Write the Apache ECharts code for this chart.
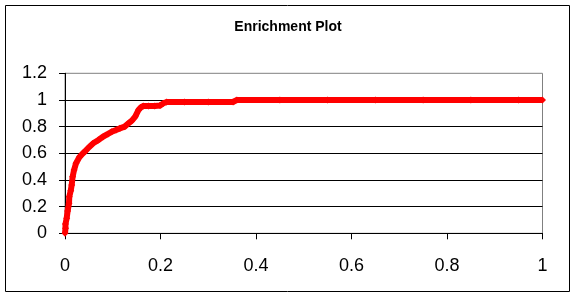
<!DOCTYPE html>
<html>
<head>
<meta charset="utf-8">
<script src="https://cdn.jsdelivr.net/npm/echarts@6/dist/echarts.min.js"></script>
<style>
html,body{margin:0;padding:0;background:#fff;}
#chart{width:576px;height:300px;}
</style>
</head>
<body>
<div id="chart"></div>
<script>
var titleText = 'Enrichment Plot';
var xValues = [0, 0.001, 0.001, 0.0035, 0.0055, 0.0084, 0.009, 0.012, 0.014, 0.016, 0.019, 0.023, 0.030, 0.036, 0.042, 0.050, 0.059, 0.070, 0.080, 0.090, 0.098, 0.107, 0.115, 0.125, 0.133, 0.140, 0.147, 0.154, 0.159, 0.164, 0.175, 0.188, 0.199, 0.206, 0.213, 0.250, 0.300, 0.352, 0.360, 0.450, 0.550, 0.650, 0.750, 0.850, 0.950, 1.000];
var yValues = [0, 0.037, 0.070, 0.112, 0.167, 0.225, 0.275, 0.320, 0.362, 0.425, 0.475, 0.525, 0.570, 0.595, 0.615, 0.645, 0.675, 0.700, 0.725, 0.745, 0.762, 0.775, 0.787, 0.800, 0.825, 0.845, 0.875, 0.925, 0.945, 0.955, 0.955, 0.955, 0.958, 0.975, 0.985, 0.985, 0.985, 0.985, 1.000, 1.000, 1.000, 1.000, 1.000, 1.000, 1.000, 1.000];
var xTicks = [0, 0.2, 0.4, 0.6, 0.8, 1];
var yTicks = [0, 0.2, 0.4, 0.6, 0.8, 1, 1.2];

var points = xValues.map(function (x, i) { return [x, yValues[i]]; });
var labelFont = { fontFamily: 'Liberation Sans, Arial, sans-serif', fontSize: 18, color: '#000' };

var chart = echarts.init(document.getElementById('chart'), null, { renderer: 'canvas' });
chart.setOption({
  animation: false,
  backgroundColor: '#fff',
  title: {
    text: titleText,
    left: 'center',
    top: 20,
    padding: 0,
    textStyle: { fontFamily: 'Liberation Sans, Arial, sans-serif', fontSize: 14, fontWeight: 'bold', color: '#000' }
  },
  graphic: [{
    type: 'rect',
    shape: { x: 5.5, y: 5.5, width: 564, height: 286 },
    style: { fill: 'none', stroke: '#000', lineWidth: 1 },
    silent: true
  }],
  grid: {
    left: 65, right: 33.5, top: 73.3, bottom: 66.7,
    show: true, borderColor: '#808080', borderWidth: 1, backgroundColor: 'transparent'
  },
  xAxis: {
    type: 'value',
    min: xTicks[0], max: xTicks[xTicks.length - 1], interval: 0.2,
    axisLine: { show: true, onZero: false, lineStyle: { color: '#000', width: 1 } },
    axisTick: { show: true, length: 6, lineStyle: { color: '#000' } },
    axisLabel: Object.assign({ margin: 24 }, labelFont),
    splitLine: { show: false }
  },
  yAxis: {
    type: 'value',
    min: yTicks[0], max: yTicks[yTicks.length - 1], interval: 0.2,
    axisLine: { show: true, lineStyle: { color: '#000', width: 1 } },
    axisTick: { show: true, length: 6, lineStyle: { color: '#000' } },
    axisLabel: Object.assign({ margin: 18 }, labelFont),
    splitLine: { show: true, showMaxLine: false, lineStyle: { color: '#000', width: 1 } }
  },
  series: [{
    type: 'line',
    data: points,
    symbol: 'diamond',
    symbolSize: [7, 7],
    showAllSymbol: true,
    itemStyle: { color: '#ff0000' },
    lineStyle: { color: '#ff0000', width: 6, join: 'miter' }
  }]
});
</script>
</body>
</html>
